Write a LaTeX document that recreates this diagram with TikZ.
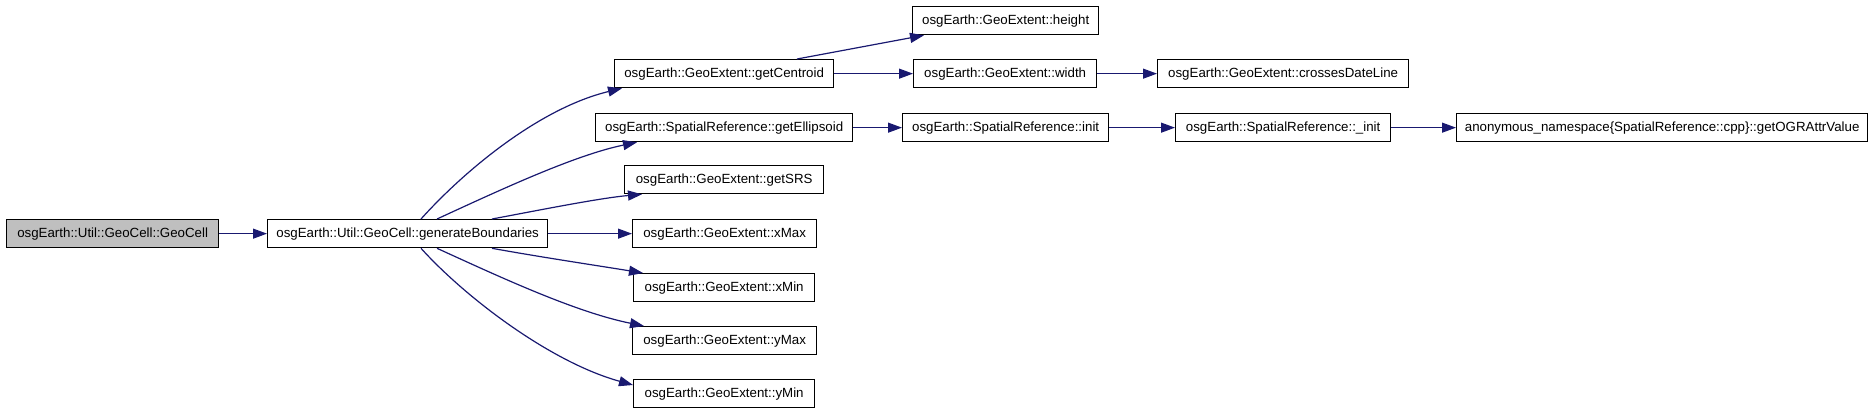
\documentclass[tikz,border=0pt]{standalone}
\usepackage{fontspec}
\setmainfont{Liberation Sans}
\usetikzlibrary{arrows.meta,calc}
\definecolor{edgeblue}{HTML}{191970}
\definecolor{nodegray}{HTML}{BFBFBF}
\tikzset{
  fn/.style={draw=black, line width=1.3pt, fill=white, inner sep=0pt, minimum height=28pt, font=\fontsize{13.3pt}{15pt}\selectfont, anchor=north west},
  cur/.style={fn, fill=nodegray},
  call/.style={draw=edgeblue, line width=1.2pt, -{Triangle[length=14pt,width=10pt]}, color=edgeblue},
}
\begin{document}
\begin{tikzpicture}[x=1pt,y=-1pt]
\useasboundingbox (0,0) rectangle (1872,413);
\node[cur, minimum width=212pt] (gc) at (6,219) {osgEarth::Util::GeoCell::GeoCell};
\node[fn, minimum width=280pt] (gb) at (267,219) {osgEarth::Util::GeoCell::generateBoundaries};
\node[fn, minimum width=219pt] (cen) at (614,59) {osgEarth::GeoExtent::getCentroid};
\node[fn, minimum width=186pt] (hei) at (912,6) {osgEarth::GeoExtent::height};
\node[fn, minimum width=183pt] (wid) at (913,59) {osgEarth::GeoExtent::width};
\node[fn, minimum width=251pt] (cdl) at (1157,59) {osgEarth::GeoExtent::crossesDateLine};
\node[fn, minimum width=257pt] (ell) at (595,113) {osgEarth::SpatialReference::getEllipsoid};
\node[fn, minimum width=206pt] (ini) at (902,113) {osgEarth::SpatialReference::init};
\node[fn, minimum width=215pt] (uin) at (1175,113) {osgEarth::SpatialReference::\_init};
\node[fn, minimum width=411pt] (ogr) at (1456,113) {anonymous\_namespace\{SpatialReference::cpp\}::getOGRAttrValue};
\node[fn, minimum width=199pt] (srs) at (624,165) {osgEarth::GeoExtent::getSRS};
\node[fn, minimum width=184pt] (xmx) at (632,219) {osgEarth::GeoExtent::xMax};
\node[fn, minimum width=181pt] (xmn) at (633,273) {osgEarth::GeoExtent::xMin};
\node[fn, minimum width=184pt] (ymx) at (632,326) {osgEarth::GeoExtent::yMax};
\node[fn, minimum width=181pt] (ymn) at (633,379) {osgEarth::GeoExtent::yMin};

\draw[call] (gc) -- (gb);
\draw[call] ($(gb.north west)+(154,0)$) .. controls (465,170) and (540,108) .. ($(cen.south west)+(8,0)$);
\draw[call] ($(gb.north west)+(170,0)$) .. controls (500,190) and (575,155) .. ($(ell.south west)+(42,0)$);
\draw[call] ($(gb.north west)+(225,0)$) .. controls (540,210) and (600,198) .. ($(srs.south west)+(18,0)$);
\draw[call] (gb) -- (xmx);
\draw[call] ($(gb.south west)+(225,0)$) .. controls (540,257) and (600,266) .. ($(xmn.north west)+(10,0)$);
\draw[call] ($(gb.south west)+(170,0)$) .. controls (500,277) and (575,312) .. ($(ymx.north west)+(12,0)$);
\draw[call] ($(gb.south west)+(154,0)$) .. controls (465,297) and (550,362) .. ($(ymn.north west)+(0,6)$);
\draw[call] ($(cen.north west)+(183,0)$) -- ($(hei.south west)+(12,0)$);
\draw[call] (cen) -- (wid);
\draw[call] (wid) -- (cdl);
\draw[call] (ell) -- (ini);
\draw[call] (ini) -- (uin);
\draw[call] (uin) -- (ogr);
\end{tikzpicture}
\end{document}
